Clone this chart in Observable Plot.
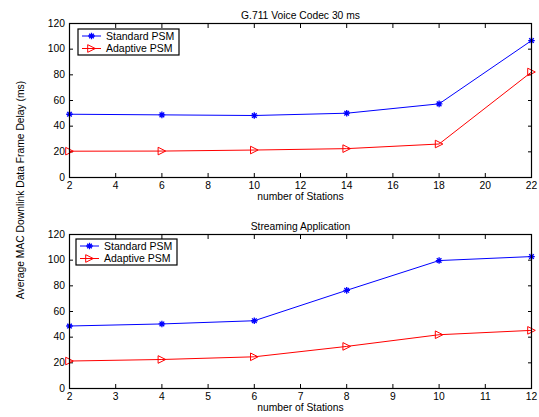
<!DOCTYPE html>
<html>
<head>
<meta charset="utf-8">
<script src="https://cdn.jsdelivr.net/npm/d3@7"></script>
<script src="https://cdn.jsdelivr.net/npm/@observablehq/plot@0.6"></script>
<style>
  html, body { margin: 0; padding: 0; background: white; }
  #wrap { position: relative; width: 539px; height: 417px; background: white; font-family: "Liberation Sans", Arial, Helvetica, sans-serif; overflow: hidden; }
  .panel { position: absolute; left: 0; z-index: 1; }
  .ylab { position: absolute; left: 20px; top: 190px; transform: translate(-50%, -50%) rotate(-90deg); white-space: nowrap; font-size: 10.3px; color: black; z-index: 3; }
  .legend { position: absolute; z-index: 2; }
</style>
</head>
<body>
<div id="wrap">
  <div class="ylab">Average MAC Downlink Data Frame Delay (ms)</div>
</div>
<script>
// ---- data ----
const series = ["Standard PSM", "Adaptive PSM"];
const seriesColors = ["#0000ff", "#ff0000"];

const topTitle = "G.711 Voice Codec 30 ms";
const topStations = [2, 6, 10, 14, 18, 22];
const topStandard = [49.3, 48.8, 48.3, 50.1, 57.4, 106.7];
const topAdaptive = [20.5, 20.6, 21.4, 22.5, 26.1, 82.2];
const topXTicks = [2, 4, 6, 8, 10, 12, 14, 16, 18, 20, 22];

const botTitle = "Streaming Application";
const botStations = [2, 4, 6, 8, 10, 12];
const botStandard = [48.7, 50.3, 52.8, 76.5, 99.7, 102.8];
const botAdaptive = [21.4, 22.6, 24.7, 32.8, 41.9, 45.3];
const botXTicks = [2, 3, 4, 5, 6, 7, 8, 9, 10, 11, 12];

const yTicks = [0, 20, 40, 60, 80, 100, 120];
const xLabel = "number of Stations";

// ---- symbols ----
const asterisk = {
  draw(ctx, size) {
    const r = Math.sqrt(size / Math.PI);
    const d = r * Math.SQRT1_2;
    ctx.moveTo(0, -r); ctx.lineTo(0, r);
    ctx.moveTo(-r, 0); ctx.lineTo(r, 0);
    ctx.moveTo(-d, -d); ctx.lineTo(d, d);
    ctx.moveTo(-d, d); ctx.lineTo(d, -d);
  }
};
const triRight = {
  draw(ctx, size) {
    const s = Math.sqrt(size / Math.PI);
    ctx.moveTo(s, 0); ctx.lineTo(-s, -s); ctx.lineTo(-s, s); ctx.closePath();
  }
};
const symbols = [asterisk, triRight];
const FONT = "'Liberation Sans', Arial, Helvetica, sans-serif";

function panel({stations, std, adp, xTicks, title, height, marginTop, marginBottom, labelDy}) {
  const data = [
    ...stations.map((x, i) => ({x, y: std[i], s: series[0]})),
    ...stations.map((x, i) => ({x, y: adp[i], s: series[1]}))
  ];
  return Plot.plot({
    width: 539, height, marginLeft: 69, marginRight: 8, marginTop, marginBottom,
    style: {fontFamily: FONT, fontSize: "10px", color: "black", background: "transparent", overflow: "visible"},
    x: {domain: d3.extent(xTicks), ticks: xTicks},
    y: {domain: d3.extent(yTicks), ticks: yTicks},
    color: {domain: series, range: seriesColors},
    marks: [
      Plot.axisX(xTicks, {anchor: "bottom", tickSize: -4, tickPadding: 8.5, label: null, fontSize: 10.3}),
      Plot.axisX(xTicks, {anchor: "top", tickSize: -4, tickFormat: () => "", label: null}),
      Plot.axisY(yTicks, {anchor: "left", tickSize: -4, tickPadding: 8.5, label: null, fontSize: 10.3}),
      Plot.axisY(yTicks, {anchor: "right", tickSize: -4, tickFormat: () => "", label: null}),
      Plot.line(data, {x: "x", y: "y", z: "s", stroke: "s", strokeWidth: 1}),
      Plot.dot(data.filter(d => d.s === series[0]), {x: "x", y: "y", symbol: asterisk, r: 3.3, stroke: seriesColors[0], fill: "none", strokeWidth: 1.3}),
      Plot.dot(data.filter(d => d.s === series[1]), {x: "x", y: "y", symbol: triRight, r: 3.8, stroke: seriesColors[1], fill: "none", strokeWidth: 1}),
      Plot.frame({stroke: "black", strokeWidth: 1.2}),
      Plot.text([title], {frameAnchor: "top", dy: -11.5, fontSize: 10.3, fill: "black"}),
      Plot.text([xLabel], {frameAnchor: "bottom", dy: labelDy, fontSize: 10.3, fill: "black"})
    ]
  });
}

function legend(left, top) {
  const w = 101, h = 26;
  const svg = d3.create("svg").attr("class", "legend").attr("width", w + 2).attr("height", h + 2)
    .style("left", (left - 1) + "px").style("top", (top - 1) + "px").style("overflow", "visible");
  const g = svg.append("g").attr("transform", "translate(1,1)");
  g.append("rect").attr("width", w).attr("height", h).attr("fill", "white").attr("stroke", "black").attr("stroke-width", 1.2);
  series.forEach((s, i) => {
    const cy = 7 + i * 12.5;
    g.append("line").attr("x1", 4).attr("x2", 23).attr("y1", cy).attr("y2", cy).attr("stroke", seriesColors[i]).attr("stroke-width", 1);
    const p = d3.path();
    const r = i === 0 ? 3.3 : 3.8;
    symbols[i].draw(p, r * r * Math.PI);
    g.append("path").attr("d", p.toString()).attr("transform", `translate(13.5,${cy})`)
      .attr("fill", "none").attr("stroke", seriesColors[i]).attr("stroke-width", i === 0 ? 1.3 : 1);
    g.append("text").attr("x", 28).attr("y", cy).attr("dy", "0.35em").attr("font-size", 10.5)
      .attr("font-family", FONT).attr("fill", "black").text(s);
  });
  return svg.node();
}

const wrap = document.getElementById("wrap");
const p1 = panel({stations: topStations, std: topStandard, adp: topAdaptive, xTicks: topXTicks, title: topTitle, height: 210, marginTop: 23, marginBottom: 33, labelDy: 22});
p1.classList.add("panel"); p1.style.top = "0px";
const p2 = panel({stations: botStations, std: botStandard, adp: botAdaptive, xTicks: botXTicks, title: botTitle, height: 207, marginTop: 24, marginBottom: 29, labelDy: 22});
p2.classList.add("panel"); p2.style.top = "210px";
wrap.appendChild(p1);
wrap.appendChild(p2);
wrap.appendChild(legend(78, 29));
wrap.appendChild(legend(76, 239));
</script>
</body>
</html>
